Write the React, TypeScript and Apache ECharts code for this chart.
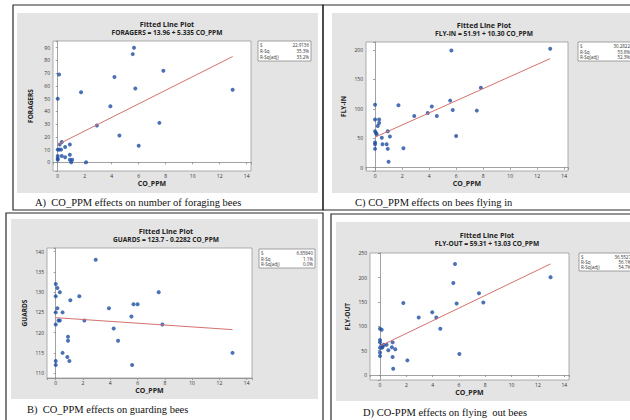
import React, { useEffect, useRef } from 'react';
import * as echarts from 'echarts';

// ---------- DATA ----------
// Panel A: FORAGERS vs CO_PPM
const coPpmA = [1.73, 2.1, 2.9, 3.9, 4.2, 4.57, 5.56, 5.65, 5.75, 6.0, 7.53, 7.83, 12.96,
  0.1, 0, 0.3, 0.15, 0, 0.1, 0.25, 0.55, 0.9, 0, 0, 0, 0.3, 0.55, 0.9, 0.9, 1.07, 1.0];
const foragers = [55, 0, 29, 44, 67, 21, 85, 90, 58, 13, 31, 72, 57,
  69, 50, 16, 14, 10, 10, 10, 12, 14, 5, 3, 2, 5, 4, 6, 2, 2, 0];

// Panel C: FLY-IN vs CO_PPM
const coPpmC = [1.73, 2.1, 2.9, 3.9, 4.2, 4.57, 5.56, 5.65, 5.75, 6.0, 7.53, 7.83, 12.96,
  0, 0, 0.3, 0.3, 0.2, 0, 0.07, 0.12, 0.94, 1.1, 0.5, 0, 0, 0.55, 0.86, 0, 0.94, 1.0];
const flyIn = [106, 33, 88, 93, 104, 88, 114, 199, 98, 54, 97, 136, 202,
  107, 82, 82, 76, 71, 62, 59, 57, 62, 53, 51, 43, 40, 40, 40, 32, 32, 10];

// Panel B: GUARDS vs CO_PPM
const coPpmB = [1.73, 2.1, 2.93, 3.9, 4.25, 4.57, 5.55, 5.6, 5.7, 6.0, 7.55, 7.82, 12.96,
  0, 0.12, 0, 0.3, 0.12, 0, 0.5, 0, 0.2, 0.3, 1.07, 0.9, 0.9, 0.5, 0.85, 1.0, 0, 0];
const guards = [129, 123, 138, 126, 121, 118, 124, 112, 127, 127, 130, 122, 115,
  132, 131, 129, 130, 126, 125, 125, 122, 123, 123, 128, 119, 118, 115, 114, 113, 113, 112];

// Panel D: FLY-OUT vs CO_PPM
const coPpmD = [1.77, 2.08, 2.94, 3.97, 4.28, 4.58, 5.57, 5.7, 5.82, 6.03, 7.52, 7.85, 12.96,
  0, 0.13, 0, 0, 0, 0, 0, 0.2, 0.3, 0.5, 0.15, 0.63, 0.96, 0.9, 1.16, 0.96, 1.0, 0.1];
const flyOut = [148, 30, 118, 129, 118, 95, 189, 228, 147, 43, 168, 149, 201,
  95, 93, 72, 67, 56, 46, 39, 58, 62, 62, 56, 51, 67, 57, 53, 37, 13, 60];

// Fitted line coefficients [intercept, slope]
const fitA = [13.96, 5.335];
const fitC = [51.91, 10.30];
const fitB = [123.7, -0.2282];
const fitD = [59.31, 13.03];

// Summary stats
const statLabels = ['S', 'R-Sq', 'R-Sq(adj)'];
const statsA = ['22.9136', '35.3%', '33.2%'];
const statsC = ['30.2822', '53.8%', '52.3%'];
const statsB = ['6.85840', '1.1%', '0.0%'];
const statsD = ['36.5527', '56.1%', '54.7%'];

// Axis ranges [min, max] and tick steps
const xRangeA = [-0.35, 14.32];
const xRangeC = [-0.67, 14.28];
const xRangeB = [-0.64, 14.39];
const xRangeD = [-0.76, 14.36];
const yRangeA = [-6.8, 95.3];
const yRangeC = [-5.6, 213.6];
const yRangeB = [108.8, 140.9];
const yRangeD = [-10.3, 250.6];
const xStep = 2;
const yStepA = 10;
const yStepC = 50;
const yStepB = 5;
const yStepD = 50;

// ---------- LAYOUT ----------
const panels = [
  {
    xs: coPpmA, ys: foragers, fit: fitA, stats: statsA, xRange: xRangeA, yRange: yRangeA, yStep: yStepA,
    yName: 'FORAGERS', eq: 'FORAGERS = 13.96 + 5.335 CO_PPM',
    caption: 'A)  CO_PPM effects on number of foraging bees',
    grid: { left: 53, top: 41, width: 198, height: 130 },
    bg: [17, 13, 301, 180], title: [167, 24.3, 32.8], box: [258, 41, 53, 20], cap: [35, 202],
  },
  {
    xs: coPpmC, ys: flyIn, fit: fitC, stats: statsC, xRange: xRangeC, yRange: yRangeC, yStep: yStepC,
    yName: 'FLY-IN', eq: 'FLY-IN = 51.91 + 10.30 CO_PPM',
    caption: 'C) CO_PPM effects on bees flying in',
    grid: { left: 366, top: 42, width: 202, height: 129 },
    bg: [332, 13, 298, 180], title: [484, 24.6, 33.1], box: [578, 42, 54, 19], cap: [355, 202],
  },
  {
    xs: coPpmB, ys: guards, fit: fitB, stats: statsB, xRange: xRangeB, yRange: yRangeB, yStep: yStepB,
    yName: 'GUARDS', eq: 'GUARDS = 123.7 - 0.2282 CO_PPM',
    caption: 'B)  CO_PPM effects on guarding bees',
    grid: { left: 47, top: 248, width: 205, height: 130 },
    bg: [11, 219, 307, 180], title: [166, 231, 239.6], box: [259, 249, 56, 19], cap: [27, 409],
  },
  {
    xs: coPpmD, ys: flyOut, fit: fitD, stats: statsD, xRange: xRangeD, yRange: yRangeD, yStep: yStepD,
    yName: 'FLY-OUT', eq: 'FLY-OUT = 59.31 + 13.03 CO_PPM',
    caption: 'D) CO-PPM effects on flying  out bees',
    grid: { left: 370, top: 253, width: 199, height: 127 },
    bg: [336, 222, 294, 179], title: [487, 234.6, 243.1], box: [579, 253, 54, 18], cap: [363, 412],
  },
];

const frames = [
  [13, 5, 310, 205],
  [323, 5, 312, 205],
  [6, 213, 317, 215],
  [331, 214, 305, 215],
];

const SANS = '"Segoe UI", "Open Sans", "Noto Sans", sans-serif';
const SERIF = '"Times New Roman", "Liberation Serif", serif';
const DOT = '#1f4fa3';
const FIT = '#d4716e';

const isMultiple = (v: number, step: number) => Math.abs(v / step - Math.round(v / step)) < 1e-6;

export default function App() {
  const ref = useRef<HTMLDivElement>(null);

  useEffect(() => {
    if (!ref.current) return;
    const chart = echarts.init(ref.current, null, { renderer: 'svg' });

    const graphic: any[] = [];
    panels.forEach((p) => {
      graphic.push({
        type: 'rect', z: -10, silent: true,
        shape: { x: p.bg[0], y: p.bg[1], width: p.bg[2], height: p.bg[3] },
        style: { fill: '#e4e4e4' },
      });
      graphic.push({
        type: 'text', x: p.title[0], y: p.title[1],
        style: { text: 'Fitted Line Plot', font: `bold 7.2px ${SANS}`, fill: '#222', align: 'center', verticalAlign: 'middle', textAlign: 'center', textVerticalAlign: 'middle' },
      });
      graphic.push({
        type: 'text', x: p.title[0], y: p.title[2],
        style: { text: p.eq, font: `bold 6.6px ${SANS}`, fill: '#222', align: 'center', verticalAlign: 'middle', textAlign: 'center', textVerticalAlign: 'middle' },
      });
      const [bx, by, bw, bh] = p.box;
      graphic.push({
        type: 'rect',
        shape: { x: bx, y: by, width: bw, height: bh },
        style: { fill: '#ffffff', stroke: '#8a8a8a', lineWidth: 0.8 },
      });
      const rowH = (bh - 2) / 3;
      statLabels.forEach((lab, k) => {
        const cy = by + 1 + rowH * (k + 0.5);
        graphic.push({
          type: 'text', x: bx + 2, y: cy,
          style: { text: lab, font: `4.5px ${SANS}`, fill: '#333', align: 'left', verticalAlign: 'middle', textAlign: 'left', textVerticalAlign: 'middle' },
        });
        graphic.push({
          type: 'text', x: bx + bw - 2, y: cy,
          style: { text: p.stats[k], font: `4.5px ${SANS}`, fill: '#333', align: 'right', verticalAlign: 'middle', textAlign: 'right', textVerticalAlign: 'middle' },
        });
      });
      graphic.push({
        type: 'text', x: p.cap[0], y: p.cap[1],
        style: { text: p.caption, font: `10.5px ${SERIF}`, fill: '#111', align: 'left', verticalAlign: 'middle', textAlign: 'left', textVerticalAlign: 'middle' },
      });
    });
    frames.forEach((f) => {
      graphic.push({
        type: 'rect', silent: true,
        shape: { x: f[0], y: f[1], width: f[2], height: f[3] },
        style: { fill: 'none', stroke: '#2a2a2a', lineWidth: 1.2 },
      });
    });

    const option: any = {
      animation: false,
      backgroundColor: '#ffffff',
      grid: panels.map((p) => ({
        ...p.grid, show: true, backgroundColor: '#ffffff', borderColor: '#9a9a9a', borderWidth: 0.8, containLabel: false,
      })),
      xAxis: panels.map((p, i) => ({
        type: 'value', gridIndex: i, min: p.xRange[0], max: p.xRange[1], splitNumber: 7,
        name: 'CO_PPM', nameLocation: 'middle', nameGap: 8.5,
        nameTextStyle: { fontFamily: SANS, fontSize: 7, fontWeight: 'bold', color: '#222' },
        axisLine: { show: true, lineStyle: { color: '#8a8a8a', width: 0.8 } },
        axisTick: { show: true, length: 2, lineStyle: { color: '#8a8a8a', width: 0.8 } },
        axisLabel: {
          fontFamily: SANS, fontSize: 5, color: '#333', margin: 2.5,
          formatter: (v: number) => (isMultiple(v, xStep) ? String(Math.round(v)) : ''),
        },
        splitLine: { show: false },
      })),
      yAxis: panels.map((p, i) => ({
        type: 'value', gridIndex: i, min: p.yRange[0], max: p.yRange[1],
        splitNumber: Math.round((p.yRange[1] - p.yRange[0]) / p.yStep),
        name: p.yName, nameLocation: 'middle', nameGap: 19,
        nameTextStyle: { fontFamily: SANS, fontSize: 6.5, fontWeight: 'bold', color: '#222' },
        axisLine: { show: true, lineStyle: { color: '#8a8a8a', width: 0.8 } },
        axisTick: { show: true, length: 2, lineStyle: { color: '#8a8a8a', width: 0.8 } },
        axisLabel: {
          fontFamily: SANS, fontSize: 5, color: '#333', margin: 3,
          formatter: (v: number) => (isMultiple(v, p.yStep) ? String(Math.round(v)) : ''),
        },
        splitLine: { show: false },
      })),
      series: [
        ...panels.map((p, i) => ({
          type: 'scatter', xAxisIndex: i, yAxisIndex: i,
          data: p.xs.map((x, k) => [x, p.ys[k]]),
          symbol: 'circle', symbolSize: 4,
          itemStyle: { color: DOT },
          z: 2,
        })),
        ...panels.map((p, i) => {
          const x0 = Math.min(...p.xs);
          const x1 = Math.max(...p.xs);
          return {
            type: 'line', xAxisIndex: i, yAxisIndex: i,
            data: [[x0, p.fit[0] + p.fit[1] * x0], [x1, p.fit[0] + p.fit[1] * x1]],
            symbol: 'none', lineStyle: { color: FIT, width: 1 },
            z: 3,
          };
        }),
      ],
      graphic,
    };

    chart.setOption(option);
    return () => chart.dispose();
  }, []);

  return (
    <div
      ref={ref}
      style={{ position: 'fixed', left: 0, top: 0, width: 630, height: 420 }}
    />
  );
}
